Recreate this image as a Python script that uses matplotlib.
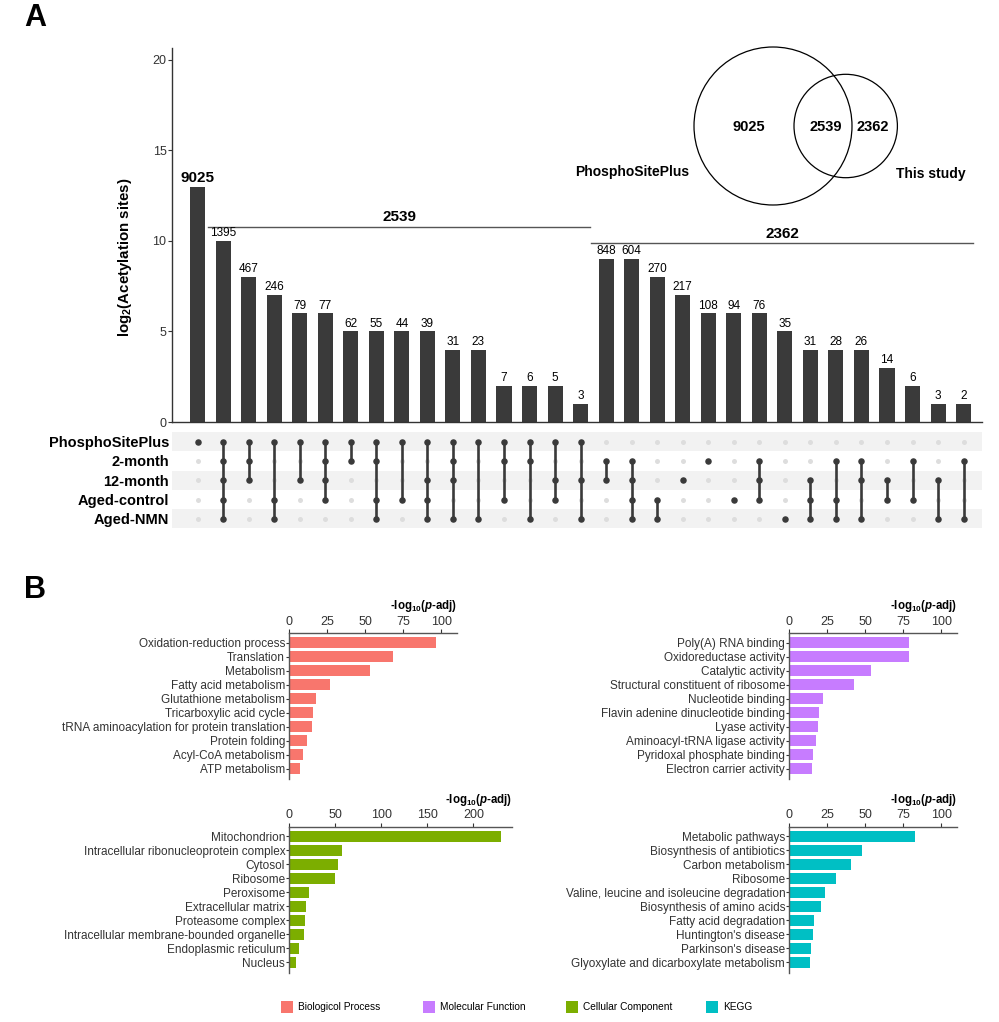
import numpy as np
import matplotlib
matplotlib.use("Agg")
import matplotlib.pyplot as plt
from matplotlib.patches import Circle, Rectangle

plt.rcParams['font.family'] = ['Liberation Sans', 'DejaVu Sans']
plt.rcParams['mathtext.fontset'] = 'custom'
plt.rcParams['mathtext.rm'] = 'Liberation Sans:bold'
plt.rcParams['mathtext.bf'] = 'Liberation Sans:bold'
plt.rcParams['mathtext.it'] = 'Liberation Sans:italic:bold'

# ---------------------------------------------------------
# Panel A data (UpSet plot + Venn)
# ---------------------------------------------------------
set_names = ["PhosphoSitePlus", "2-month", "12-month", "Aged-control", "Aged-NMN"]
counts = [9025, 1395, 467, 246, 79, 77, 62, 55, 44, 39, 31, 23, 7, 6, 5, 3,
          848, 604, 270, 217, 108, 94, 76, 35, 31, 28, 26, 14, 6, 3, 2]
bar_heights = [13, 10, 8, 7, 6, 6, 5, 5, 5, 5, 4, 4, 2, 2, 2, 1,
               9, 9, 8, 7, 6, 6, 6, 5, 4, 4, 4, 3, 2, 1, 1]
memberships = [
    [0], [0, 1, 2, 3, 4], [0, 1, 2], [0, 3, 4], [0, 2], [0, 1, 2, 3], [0, 1],
    [0, 1, 3, 4], [0, 3], [0, 2, 3, 4], [0, 1, 2, 4], [0, 4], [0, 1, 3],
    [0, 1, 4], [0, 2, 3], [0, 2, 4],
    [1, 2], [1, 2, 3, 4], [3, 4], [2], [1], [3], [1, 2, 3], [4], [2, 3, 4],
    [1, 3, 4], [1, 2, 4], [2, 3], [1, 3], [2, 4], [1, 4],
]
group_totals = [2539, 2362]
group_spans = [(1, 15), (16, 30)]
venn_counts = [9025, 2539, 2362]
venn_labels = ["PhosphoSitePlus", "This study"]

# ---------------------------------------------------------
# Panel B data (enrichment)
# ---------------------------------------------------------
bp_terms = ["Oxidation-reduction process", "Translation", "Metabolism",
            "Fatty acid metabolism", "Glutathione metabolism",
            "Tricarboxylic acid cycle",
            "tRNA aminoacylation for protein translation", "Protein folding",
            "Acyl-CoA metabolism", "ATP metabolism"]
bp_values = [96.3, 68, 53, 26.9, 17.3, 15.3, 14.7, 11.4, 9.2, 6.8]

mf_terms = ["Poly(A) RNA binding", "Oxidoreductase activity", "Catalytic activity",
            "Structural constituent of ribosome", "Nucleotide binding",
            "Flavin adenine dinucleotide binding", "Lyase activity",
            "Aminoacyl-tRNA ligase activity", "Pyridoxal phosphate binding",
            "Electron carrier activity"]
mf_values = [78.8, 78.8, 54, 42.4, 22.3, 19.3, 19.0, 17.5, 15.5, 15.1]

cc_terms = ["Mitochondrion", "Intracellular ribonucleoprotein complex", "Cytosol",
            "Ribosome", "Peroxisome", "Extracellular matrix", "Proteasome complex",
            "Intracellular membrane-bounded organelle", "Endoplasmic reticulum",
            "Nucleus"]
cc_values = [230, 57.2, 52.5, 50, 21.7, 17.8, 17.4, 16.3, 10.1, 6.9]

kegg_terms = ["Metabolic pathways", "Biosynthesis of antibiotics",
              "Carbon metabolism", "Ribosome",
              "Valine, leucine and isoleucine degradation",
              "Biosynthesis of amino acids", "Fatty acid degradation",
              "Huntington's disease", "Parkinson's disease",
              "Glyoxylate and dicarboxylate metabolism"]
kegg_values = [82.5, 48.1, 40.5, 30.6, 23.4, 20.6, 16.4, 15.3, 14.2, 13.8]

legend_labels = ["Biologicol Process", "Molecular Function", "Cellular Component", "KEGG"]
colors = ["#F8766D", "#C77CFF", "#7CAE00", "#00BFC4"]

W, H = 999, 1022
DARK = "#3a3a3a"
AXC = "#333333"


def px_axes(fig, left, top, right, bottom):
    return fig.add_axes([left / W, 1 - bottom / H, (right - left) / W, (bottom - top) / H])


fig = plt.figure(figsize=(W / 100, H / 100), dpi=100)

# ---------------- UpSet bars ----------------
ax_bar = px_axes(fig, 172, 48, 981.5, 422)
x = np.arange(len(counts))
ax_bar.bar(x, bar_heights, width=0.59, color=DARK, zorder=2)
for i, (c, h) in enumerate(zip(counts, bar_heights)):
    if i == 0:
        ax_bar.text(i, h + 0.1, str(c), ha='center', va='bottom', fontsize=11, fontweight='bold')
    else:
        ax_bar.text(i, h + 0.1, str(c), ha='center', va='bottom', fontsize=8.5)
ax_bar.set_xlim(-1.0, 30.7)
ax_bar.set_ylim(0, 20.66)
ax_bar.set_yticks([0, 5, 10, 15, 20])
ax_bar.set_xticks([])
for s in ['top', 'right']:
    ax_bar.spines[s].set_visible(False)
for s in ['left', 'bottom']:
    ax_bar.spines[s].set_color(AXC)
    ax_bar.spines[s].set_linewidth(1)
ax_bar.tick_params(axis='y', length=3, labelsize=9, colors=AXC, pad=1)
ax_bar.set_ylabel("log$_2$(Acetylation sites)", fontsize=10.8, fontweight='bold')
ax_bar.yaxis.set_label_coords(-0.047, 0.441)

# group brackets
bracket_y = [10.79, 9.87]
for (a, b), tot, yb in zip(group_spans, group_totals, bracket_y):
    ax_bar.plot([a - 0.6, b + 0.37], [yb, yb], color="#555555", lw=1, clip_on=False)
    ax_bar.text((a + b) / 2 - 0.1, yb + 0.15, str(tot), ha='center', va='bottom',
                fontsize=11, fontweight='bold')

# ---------------- UpSet matrix ----------------
ax_mat = px_axes(fig, 172, 432, 981.5, 528.5)
ax_mat.set_xlim(-1.0, 30.7)
ax_mat.set_ylim(len(set_names) - 0.5, -0.5)
for r in range(0, len(set_names), 2):
    ax_mat.axhspan(r - 0.5, r + 0.5, color="#f2f2f2", zorder=0, lw=0)
xx, yy = np.meshgrid(x, np.arange(len(set_names)))
ax_mat.scatter(xx.ravel(), yy.ravel(), s=13, color="#dddddd", zorder=1, lw=0)
for i, m in enumerate(memberships):
    if len(m) > 1:
        ax_mat.plot([i, i], [min(m), max(m)], color=DARK, lw=1.9, zorder=2)
    ax_mat.scatter([i] * len(m), m, s=22, color=DARK, zorder=3, lw=0)
ax_mat.set_yticks(range(len(set_names)))
ax_mat.set_yticklabels(set_names, fontsize=10.5, fontweight='bold')
ax_mat.tick_params(axis='y', length=0, pad=2)
ax_mat.set_xticks([])
for s in ax_mat.spines.values():
    s.set_visible(False)

# ---------------- Panel B enrichment bars ----------------
panels = [
    (bp_terms, bp_values, colors[0], (289.3, 633.3, 456.7, 779), 110, [0, 25, 50, 75, 100]),
    (mf_terms, mf_values, colors[1], (789.3, 633.3, 956.7, 779), 110, [0, 25, 50, 75, 100]),
    (cc_terms, cc_values, colors[2], (289.3, 827, 511.7, 972.7), 241.7, [0, 50, 100, 150, 200]),
    (kegg_terms, kegg_values, colors[3], (789.3, 827, 956.7, 972.7), 110, [0, 25, 50, 75, 100]),
]
for terms, vals, col, (l, t, r, b), xmax, ticks in panels:
    ax = px_axes(fig, l, t, r, b)
    y = np.arange(len(terms))
    ax.barh(y, vals, height=0.79, color=col)
    ax.set_xlim(0, xmax)
    ax.set_ylim(9.74, -0.67)
    ax.set_yticks(y)
    ax.set_yticklabels(terms, fontsize=8.5)
    ax.set_xticks(ticks)
    ax.xaxis.tick_top()
    ax.tick_params(axis='x', length=3, labelsize=9, pad=1, colors=AXC)
    ax.tick_params(axis='y', length=2, pad=1, colors=AXC)
    for s in ['bottom', 'right']:
        ax.spines[s].set_visible(False)
    for s in ['top', 'left']:
        ax.spines[s].set_color("#555555")
        ax.spines[s].set_linewidth(1)
    ax.text(1.0, 1 + 27 / (b - t), "-log$_{10}$($p$-adj)", transform=ax.transAxes,
            ha='right', va='center', fontsize=8.3, fontweight='bold')

# ---------------- overlay: letters, Venn, legend ----------------
ov = fig.add_axes([0, 0, 1, 1])
ov.set_xlim(0, W)
ov.set_ylim(H, 0)
ov.axis('off')

ov.text(24, 18, "A", fontsize=22, fontweight='bold', ha='left', va='center')
ov.text(24, 590, "B", fontsize=22, fontweight='bold', ha='left', va='center')

ov.add_patch(Circle((773, 126), 79, fill=False, ec='black', lw=0.9))
ov.add_patch(Circle((845.7, 126), 51.7, fill=False, ec='black', lw=0.9))
for vx, vc in zip([749, 826, 873], venn_counts):
    ov.text(vx, 127, str(vc), ha='center', va='center', fontsize=10.5, fontweight='bold')
ov.text(689, 172, venn_labels[0], ha='right', va='center', fontsize=10, fontweight='bold')
ov.text(896, 174, venn_labels[1], ha='left', va='center', fontsize=10, fontweight='bold')

for lx, lab, col in zip([281, 423, 566, 706], legend_labels, colors):
    ov.add_patch(Rectangle((lx, 1001), 12, 12, color=col, lw=0))
    ov.text(lx + 17, 1007.5, lab, ha='left', va='center', fontsize=7.3)

fig.savefig("out.png", dpi=100)
